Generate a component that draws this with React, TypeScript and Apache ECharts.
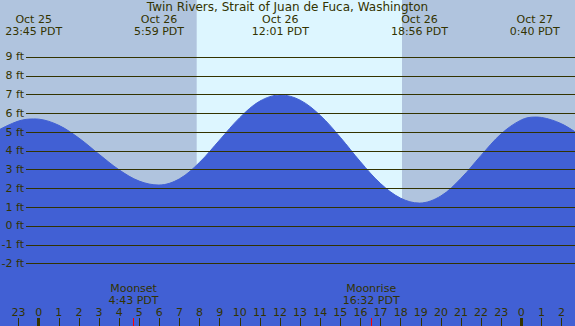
import React, { useEffect, useRef } from "react";
import * as echarts from "echarts";

const titleText = "Twin Rivers, Strait of Juan de Fuca, Washington";

// hours from Oct 26 00:00 PDT, heights in ft
const hourlyHours = [-2, -1, 0, 1, 2, 3, 4, 5, 7, 8, 9, 10, 11, 13, 14, 15, 16, 17, 18, 20, 21, 22, 23, 24, 25, 26, 27];
const hourlyHeights = [5.11, 5.59, 5.69, 5.36, 4.68, 3.82, 2.99, 2.39, 2.51, 3.39, 4.58, 5.77, 6.65, 6.70, 5.89, 4.72, 3.42, 2.26, 1.48, 1.60, 2.54, 3.76, 4.91, 5.65, 5.78, 5.44, 4.78];

const extremeHours = [-0.25, 5.983, 12.017, 18.933, 24.667];
const extremeHeights = [5.7, 2.18, 6.98, 1.22, 5.8];
const extremeDates = ["Oct 25", "Oct 26", "Oct 26", "Oct 26", "Oct 27"];
const extremeTimes = ["23:45 PDT", "5:59 PDT", "12:01 PDT", "18:56 PDT", "0:40 PDT"];

const levels = [-2, -1, 0, 1, 2, 3, 4, 5, 6, 7, 8, 9];

const sunriseHour = 7.857;
const sunsetHour = 18.066;

const moonHours = [4.717, 16.533];
const moonEvents = ["Moonset", "Moonrise"];
const moonTimes = ["4:43 PDT", "16:32 PDT"];

const hourTicks = [-2, -1, 0, 1, 2, 3, 4, 5, 6, 7, 8, 9, 10, 11, 12, 13, 14, 15, 16, 17, 18, 19, 20, 21, 22, 23, 24, 25, 26];
const midnightTicks = [0, 24];

// axis extents
const xMin = -1.924;
const xMax = 26.669;
const yMin = -5.325;
const yMax = 12.034;
const levelLineStart = -0.63;

const nightColor = "#b0c4de";
const dayColor = "#ddf6ff";
const waterColor = "#4160d4";
const inkColor = "#333300";
const font = "DejaVu Sans";

export default function App() {
  const ref = useRef<HTMLDivElement>(null);

  useEffect(() => {
    if (!ref.current) return;
    const chart = echarts.init(ref.current, undefined, { renderer: "svg" });

    const pts: [number, number][] = [];
    hourlyHours.forEach((h, i) => pts.push([h, hourlyHeights[i]]));
    extremeHours.forEach((h, i) => pts.push([h, extremeHeights[i]]));
    pts.sort((a, b) => a[0] - b[0]);

    const baseX = {
      type: "value" as const,
      min: xMin,
      max: xMax,
      z: 10,
      axisLine: { show: false, onZero: false },
      splitLine: { show: false },
    };

    chart.setOption({
      animation: false,
      backgroundColor: nightColor,
      textStyle: { fontFamily: font },
      title: {
        text: titleText,
        left: "center",
        top: 1,
        padding: 0,
        textStyle: { fontSize: 12, fontWeight: "normal", color: inkColor, fontFamily: font, lineHeight: 12 },
      },
      grid: { left: 0, right: 0, top: 0, bottom: 0 },
      xAxis: [
        {
          ...baseX,
          position: "bottom",
          axisTick: { show: true, inside: true, length: 8, customValues: hourTicks, lineStyle: { color: inkColor, width: 1 } },
          axisLabel: {
            show: true,
            inside: true,
            margin: 8,
            customValues: hourTicks,
            color: inkColor,
            fontSize: 11,
            fontFamily: font,
            formatter: (v: number) => String(((Math.round(v) % 24) + 24) % 24),
          },
        },
        {
          ...baseX,
          position: "bottom",
          axisTick: { show: true, inside: true, length: 8, customValues: midnightTicks, lineStyle: { color: inkColor, width: 3 } },
          axisLabel: { show: false },
        },
        {
          ...baseX,
          position: "bottom",
          axisTick: { show: true, inside: true, length: 8, customValues: moonHours, lineStyle: { color: "#ff0000", width: 1 } },
          axisLabel: {
            show: true,
            inside: true,
            margin: 20,
            customValues: moonHours,
            color: inkColor,
            fontSize: 11,
            lineHeight: 12,
            fontFamily: font,
            formatter: (v: number) => {
              const i = moonHours.findIndex((m) => Math.abs(m - v) < 1e-6);
              return i >= 0 ? moonEvents[i] + "\n" + moonTimes[i] : "";
            },
          },
        },
        {
          ...baseX,
          position: "top",
          axisTick: { show: false },
          axisLabel: {
            show: true,
            inside: true,
            margin: 13,
            customValues: extremeHours,
            color: inkColor,
            fontSize: 11,
            lineHeight: 12,
            fontFamily: font,
            formatter: (v: number) => {
              const i = extremeHours.findIndex((m) => Math.abs(m - v) < 1e-6);
              return i >= 0 ? extremeDates[i] + "\n" + extremeTimes[i] : "";
            },
          },
        },
      ],
      yAxis: { type: "value", min: yMin, max: yMax, show: false, splitLine: { show: false } },
      series: [
        {
          type: "line",
          data: [],
          z: 1,
          silent: true,
          markArea: {
            silent: true,
            itemStyle: { color: dayColor },
            data: [[{ xAxis: sunriseHour }, { xAxis: sunsetHour }]],
          },
        },
        {
          type: "line",
          data: pts,
          z: 2,
          smooth: 0.35,
          showSymbol: false,
          silent: true,
          lineStyle: { color: waterColor, width: 1 },
          areaStyle: { color: waterColor, opacity: 1, origin: "start" },
        },
        {
          type: "line",
          data: [],
          z: 5,
          silent: true,
          markLine: {
            silent: true,
            symbol: ["none", "none"],
            lineStyle: { color: inkColor, width: 1, type: "solid" },
            label: {
              show: true,
              position: "start",
              distance: 2,
              color: inkColor,
              fontSize: 11,
              fontFamily: font,
              formatter: (p: any) => `${p.value} ft`,
            },
            data: levels.map((v) => [
              { coord: [levelLineStart, v], value: v },
              { coord: [xMax, v], value: v },
            ]),
          },
        },
      ],
    });

    return () => chart.dispose();
  }, []);

  return <div ref={ref} style={{ width: 575, height: 326, position: "absolute", left: 0, top: 0 }} />;
}
